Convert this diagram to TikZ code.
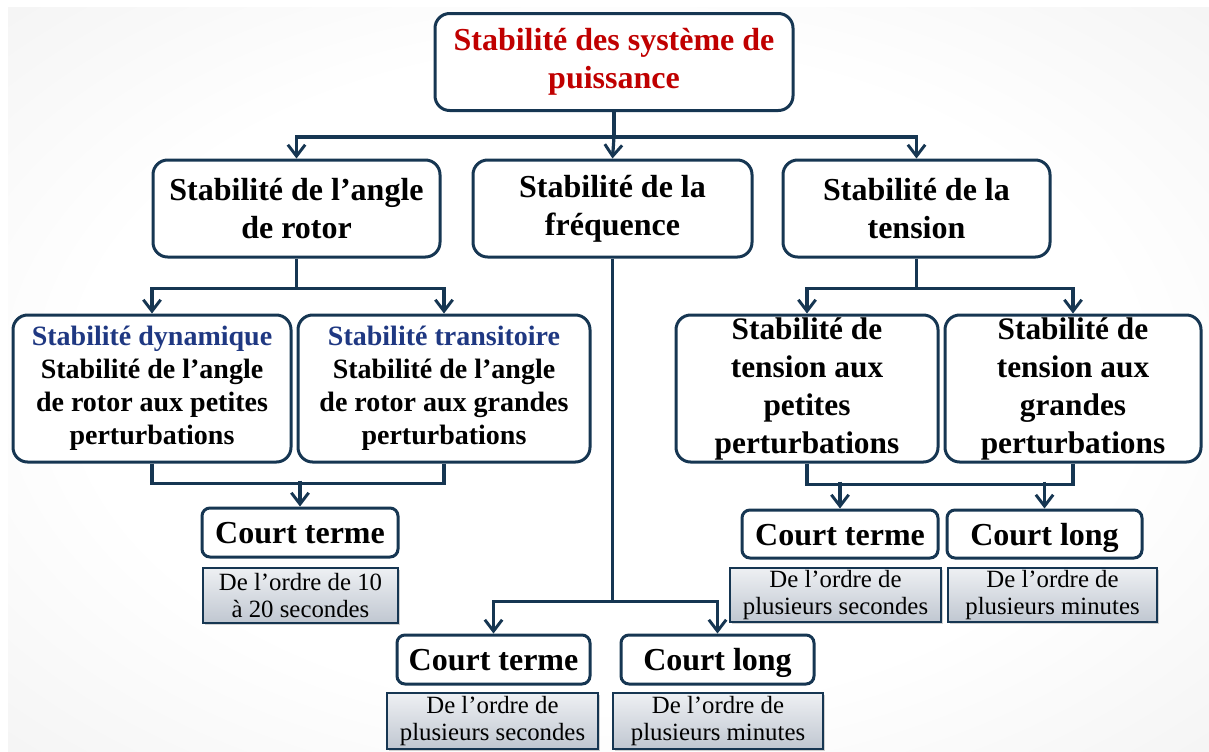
\documentclass[tikz,border=0pt]{standalone}
\usepackage{fontspec}
\setmainfont{Liberation Serif}
\usepackage{tikz}
\usetikzlibrary{arrows.meta,positioning,shadows,calc}
\definecolor{edgenavy}{RGB}{22,54,82}
\definecolor{titlered}{RGB}{192,0,0}
\definecolor{subblue}{RGB}{31,56,130}
\definecolor{graytop}{RGB}{238,240,243}
\definecolor{graybot}{RGB}{192,199,209}
\pgfdeclareradialshading{backdrop}{\pgfpoint{0bp}{0bp}}{color(0bp)=(white);color(22bp)=(white);color(72bp)=(black!15)}
\tikzset{
  sz/.style 2 args={minimum width=#1*0.75pt,minimum height=#2*0.75pt},
  box/.style={rectangle,rounded corners=11pt,draw=edgenavy,line width=2.25pt,fill=white,
              text=black,align=center,inner sep=0pt,
              font=\fontsize{24}{28.5}\selectfont\bfseries},
  sbox/.style={box,font=\fontsize{21}{24.75}\selectfont\bfseries},
  tbox/.style={box,font=\fontsize{23.5}{28.5}\selectfont\bfseries},
  cbox/.style={box,rounded corners=6pt,text height=17pt,text depth=0pt},
  note/.style={rectangle,draw=edgenavy,line width=1.4pt,top color=graytop,bottom color=graybot,
               align=center,inner sep=0pt,font=\fontsize{18.6}{20.25}\selectfont,
               drop shadow={opacity=0.35,shadow xshift=1.5pt,shadow yshift=-1.5pt}},
  ln/.style={draw=edgenavy,line width=2.4pt},
  fl/.style={ln,-{Straight Barb[length=8.5pt,width=13pt,line width=2.2pt]}},
}

\begin{document}
\begin{tikzpicture}[x=0.75pt,y=0.75pt]
  \useasboundingbox (0,0) rectangle (1209,-751);
  \shade[shading=backdrop] (8,-7) rectangle (1209,-751);

  \node[box,sz={358}{97}] (top) at (614,-62)
    {\textcolor{titlered}{Stabilité des système de}\\\textcolor{titlered}{puissance}};
  \node[box,sz={287}{97}] (rotor) at (296.5,-208.5)
    {Stabilité de l’angle\\de rotor};
  \node[box,sz={279}{97}] (freq) at (612.5,-208.5)
    {Stabilité de la\\fréquence};
  \node[box,sz={267}{97}] (tens) at (916.5,-208.5)
    {Stabilité de la\\tension};

  \node[sbox,sz={278}{147}] (dyn) at (152,-388.5)
    {\textcolor{subblue}{Stabilité dynamique}\\Stabilité de l’angle\\de rotor aux petites\\perturbations};
  \node[sbox,sz={292}{147}] (trans) at (444,-388.5)
    {\textcolor{subblue}{Stabilité transitoire}\\Stabilité de l’angle\\de rotor aux grandes\\perturbations};
  \node[tbox,sz={262}{147}] (pet) at (807,-388.5)
    {Stabilité de\\tension aux\\petites\\perturbations};
  \node[tbox,sz={256}{147}] (gra) at (1073,-388.5)
    {Stabilité de\\tension aux\\grandes\\perturbations};

  \node[cbox,sz={196}{49}] (ctL) at (300,-532.5) {Court terme};
  \node[note,sz={195}{55}] (nL) at (300.5,-595.5)
    {De l’ordre de 10\\à 20 secondes};
  \node[cbox,sz={196}{48}] (ctR) at (840,-534) {Court terme};
  \node[cbox,sz={195}{48}] (clR) at (1044.5,-534) {Court long};
  \node[note,sz={211}{54}] (nR1) at (835.5,-595)
    {De l’ordre de\\plusieurs secondes};
  \node[note,sz={209}{54}] (nR2) at (1052.5,-595)
    {De l’ordre de\\plusieurs minutes};
  \node[cbox,sz={193}{49}] (ctM) at (493.5,-659.5) {Court terme};
  \node[cbox,sz={193}{49}] (clM) at (717.5,-659.5) {Court long};
  \node[note,sz={211}{56}] (nM1) at (492.5,-721)
    {De l’ordre de\\plusieurs secondes};
  \node[note,sz={210}{56}] (nM2) at (718,-721)
    {De l’ordre de\\plusieurs minutes};

  \draw[ln] (top.south) -- ++(0,-25) coordinate (h0);
  \draw[fl] (h0) -| (rotor.north);
  \draw[fl] (h0) -- (freq.north);
  \draw[fl] (h0) -| (tens.north);

  \draw[ln] (rotor.south) -- ++(0,-30) coordinate (h1);
  \draw[fl] (h1) -| (dyn.north);
  \draw[fl] (h1) -| (trans.north);

  \draw[ln] (tens.south) -- ++(0,-30) coordinate (h2);
  \draw[fl] (h2) -| (pet.north);
  \draw[fl] (h2) -| (gra.north);

  \draw[ln] (dyn.south) -- ++(0,-20) -| (trans.south);
  \draw[fl] (ctL.north) ++(0,26) -- (ctL.north);

  \draw[ln] (pet.south) -- ++(0,-21) -| (gra.south);
  \draw[fl] (ctR.north) ++(0,27) -- (ctR.north);
  \draw[fl] (clR.north) ++(0,27) -- (clR.north);

  \draw[ln] (freq.south) -- ++(0,-343) coordinate (h3);
  \draw[fl] (h3) -| (ctM.north);
  \draw[fl] (h3) -| (clM.north);
\end{tikzpicture}
\end{document}
